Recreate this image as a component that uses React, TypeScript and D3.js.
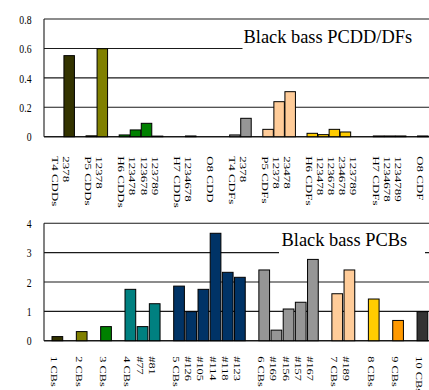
import React from 'react';
import * as d3 from 'd3';

const W = 429;
const H = 390;

// ---------- data: PCDD/DFs (top) ----------
const pcddLabels = ["T4 CDDs", "2378", "", "P5 CDDs", "12378", "", "H6 CDDs", "123478", "123678", "123789", "", "H7 CDDs", "1234678", "", "O8 CDD", "", "T4 CDFs", "2378", "", "P5 CDFs", "12378", "23478", "", "H6 CDFs", "123478", "123678", "234678", "123789", "", "H7 CDFs", "1234678", "1234789", "", "O8 CDF"];
const pcddValues = [0, 0.551, 0, 0.006, 0.598, 0, 0.012, 0.046, 0.091, 0.004, 0, 0, 0.005, 0, 0, 0, 0.012, 0.125, 0, 0.05, 0.238, 0.306, 0, 0.023, 0.014, 0.05, 0.032, 0, 0, 0.005, 0.005, 0.005, 0, 0.005];
const pcddGroups = [0, 0, -1, 1, 1, -1, 2, 2, 2, 2, -1, 3, 3, -1, 4, -1, 5, 5, -1, 6, 6, 6, -1, 7, 7, 7, 7, 7, -1, 8, 8, 8, -1, 9];
const pcddTicks = [0, 0.2, 0.4, 0.6, 0.8];
const pcddTickLabels = ["0", "0.2", "0.4", "0.6", "0.8"];
const pcddTitle = "Black bass PCDD/DFs";

// ---------- data: PCBs (bottom) ----------
const pcbLabels = ["1 CBs", "", "2 CBs", "", "3 CBs", "", "4 CBs", "#77", "#81", "", "5 CBs", "#126", "#105", "#114", "#118", "#123", "", "6 CBs", "#169", "#156", "#157", "#167", "", "7 CBs", "#189", "", "8 CBs", "", "9 CBs", "", "10 CBs"];
const pcbValues = [0.14, 0, 0.31, 0, 0.48, 0, 1.75, 0.48, 1.26, 0, 1.86, 0.99, 1.75, 3.66, 2.33, 2.16, 0, 2.41, 0.36, 1.08, 1.31, 2.77, 0, 1.6, 2.41, 0, 1.42, 0, 0.69, 0, 0.99];
const pcbGroups = [0, -1, 1, -1, 2, -1, 3, 3, 3, -1, 4, 4, 4, 4, 4, 4, -1, 5, 5, 5, 5, 5, -1, 6, 6, -1, 7, -1, 8, -1, 9];
const pcbTicks = [0, 1, 2, 3, 4];
const pcbTickLabels = ["0", "1", "2", "3", "4"];
const pcbTitle = "Black bass PCBs";

const palette = ["#333300", "#808000", "#008000", "#008080", "#003366", "#969696", "#FFCC99", "#FFCC00", "#FF9900", "#333333"];

const FONT = "'Liberation Serif', 'Times New Roman', Times, serif";

type PanelProps = {
  labels: string[];
  values: number[];
  groups: number[];
  ticks: number[];
  tickLabels: string[];
  title: string;
  xRange: [number, number];
  padIn: number;
  padOut: number;
  yMax: number;
  yRange: [number, number];
  plotLeft: number;
  titleX: number;
  titleY: number;
  labelGap: number;
  labelSize: number;
  box: { x: number; y: number; w: number; h: number };
};

function Panel(p: PanelProps) {
  const x = d3
    .scaleBand<number>()
    .domain(d3.range(p.labels.length))
    .range(p.xRange)
    .paddingInner(p.padIn)
    .paddingOuter(p.padOut);
  const y = d3.scaleLinear().domain([0, p.yMax]).range(p.yRange);
  const y0 = y(0);
  const gridColor = '#1a1a1a';
  return (
    <g>
      {/* gridlines */}
      {p.ticks.map((t) => (
        <line key={'g' + t} x1={p.plotLeft} x2={W + 5} y1={y(t)} y2={y(t)} stroke={gridColor} strokeWidth={t === 0 ? 1.4 : 1.1} />
      ))}
      {/* left axis line */}
      <line x1={p.plotLeft} x2={p.plotLeft} y1={y(p.yMax)} y2={y0} stroke={gridColor} strokeWidth={1.1} />
      {/* title box */}
      <rect x={p.box.x} y={p.box.y} width={p.box.w} height={p.box.h} fill="#fff" />
      <text x={p.titleX} y={p.titleY} fontFamily={FONT} fontSize={18.4} fill="#000">{p.title}</text>
      {/* bars */}
      {p.values.map((v, i) =>
        p.groups[i] >= 0 && v > 0 ? (
          <rect
            key={'b' + i}
            x={x(i)}
            y={y(v)}
            width={x.bandwidth()}
            height={y0 - y(v)}
            fill={palette[p.groups[i]]}
            stroke="#000"
            strokeWidth={1}
          />
        ) : null
      )}
      {/* tick labels */}
      {p.ticks.map((t, i) => (
        <text
          key={'t' + t}
          transform={`translate(31.5,${y(t) + 4.7}) scale(0.72,1)`}
          textAnchor="end"
          fontFamily={FONT}
          fontSize={13.5}
          fill="#000"
        >
          {p.tickLabels[i]}
        </text>
      ))}
      {/* category labels */}
      {p.labels.map((l, i) =>
        l ? (
          <text
            key={'c' + i}
            transform={`translate(${(x(i) as number) + x.bandwidth() / 2 - 6},${y0 + p.labelGap}) rotate(90) scale(1,0.68)`}
            fontFamily={FONT}
            fontSize={p.labelSize}
            fill="#000"
          >
            {l}
          </text>
        ) : null
      )}
    </g>
  );
}

export default function App() {
  return (
    <svg width={W} height={H} viewBox={`0 0 ${W} ${H}`} style={{ position: 'absolute', left: 0, top: 0, background: '#fff' }}>
      <rect x={0} y={0} width={W} height={H} fill="#fff" />
      <Panel
        labels={pcddLabels}
        values={pcddValues}
        groups={pcddGroups}
        ticks={pcddTicks}
        tickLabels={pcddTickLabels}
        title={pcddTitle}
        xRange={[52.6, 428.3]}
        padIn={0.05}
        padOut={0.025}
        yMax={0.8}
        yRange={[136.7, 19]}
        plotLeft={44}
        titleX={243.5}
        titleY={43}
        labelGap={19.5}
        labelSize={13}
        box={{ x: 242.5, y: 27, w: 200, h: 25 }}
      />
      <Panel
        labels={pcbLabels}
        values={pcbValues}
        groups={pcbGroups}
        ticks={pcbTicks}
        tickLabels={pcbTickLabels}
        title={pcbTitle}
        xRange={[51.27, 428.5]}
        padIn={0.12}
        padOut={0.06}
        yMax={4}
        yRange={[340.7, 223.3]}
        plotLeft={44}
        titleX={281.5}
        titleY={245.5}
        labelGap={15.5}
        labelSize={12.4}
        box={{ x: 279, y: 229, w: 146, h: 27 }}
      />
    </svg>
  );
}
